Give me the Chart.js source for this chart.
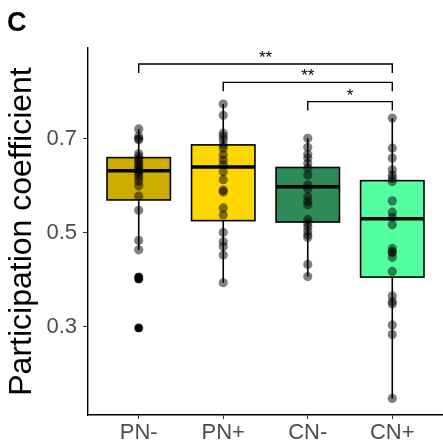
<!DOCTYPE html>
<html>
<head>
<meta charset="utf-8">
<script src="https://cdn.jsdelivr.net/npm/chart.js@4"></script>
<style>
  html, body { margin: 0; padding: 0; background: #fff; }
  #wrap { width: 443px; height: 445px; }
</style>
</head>
<body>
<div id="wrap"><canvas id="pcChart"></canvas></div>
<script>
// groups on the x axis
const groups = ["PN-", "PN+", "CN-", "CN+"];
const boxColors = ["#CDAD00", "#FFD700", "#2E8B57", "#54FF9F"];

// box statistics per group
const lowerWhisker = [0.464, 0.394, 0.407, 0.148];
const q1 = [0.570, 0.526, 0.523, 0.406];
const medians = [0.632, 0.640, 0.598, 0.530];
const q3 = [0.660, 0.687, 0.639, 0.611];
const upperWhisker = [0.721, 0.774, 0.701, 0.744];

// individual subjects
const pnMinus = [0.721, 0.705, 0.700, 0.698, 0.668, 0.662, 0.656, 0.650, 0.645, 0.640, 0.635, 0.630,
                 0.625, 0.618, 0.610, 0.600, 0.578, 0.548, 0.484, 0.464, 0.406, 0.402, 0.298];
const pnPlus = [0.774, 0.750, 0.712, 0.705, 0.698, 0.687, 0.680, 0.666, 0.655, 0.645, 0.630,
                0.613, 0.591, 0.587, 0.553, 0.538, 0.501, 0.481, 0.471, 0.453, 0.394];
const cnMinus = [0.701, 0.682, 0.667, 0.659, 0.648, 0.638, 0.623, 0.602, 0.594, 0.577, 0.567,
                 0.560, 0.528, 0.520, 0.513, 0.504, 0.496, 0.490, 0.433, 0.407];
const cnPlus = [0.744, 0.680, 0.659, 0.634, 0.623, 0.616, 0.609, 0.568, 0.544, 0.533, 0.517,
                0.467, 0.460, 0.458, 0.448, 0.418, 0.366, 0.354, 0.349, 0.304, 0.284, 0.148];
const outliers = [[0.406, 0.402, 0.298], [], [], []];

// significance brackets
const bracketFrom = [1, 2, 3];
const bracketTo = [4, 4, 4];
const bracketY = [0.859, 0.820, 0.779];
const bracketDrop = 0.019;
const bracketLabels = ["**", "**", "*"];

const yTicks = [0.3, 0.5, 0.7];

const FONT = "'Liberation Sans', Arial, Helvetica, sans-serif";

const subjects = [pnMinus, pnPlus, cnMinus, cnPlus];
const pointData = [];
subjects.forEach((vals, i) => vals.forEach(v => pointData.push({ x: i + 1, y: v })));
const outlierData = [];
outliers.forEach((vals, i) => vals.forEach(v => outlierData.push({ x: i + 1, y: v })));

// draws whiskers, boxes and medians under the points
const boxPlugin = {
  id: 'boxes',
  beforeDatasetsDraw(chart) {
    const ctx = chart.ctx;
    const xs = chart.scales.x, ys = chart.scales.y;
    const halfW = 0.375;
    ctx.save();
    groups.forEach((g, i) => {
      const cx = xs.getPixelForValue(i + 1);
      const left = xs.getPixelForValue(i + 1 - halfW);
      const right = xs.getPixelForValue(i + 1 + halfW);
      const yq1 = ys.getPixelForValue(q1[i]);
      const yq3 = ys.getPixelForValue(q3[i]);
      const ymed = ys.getPixelForValue(medians[i]);
      // whiskers
      ctx.strokeStyle = '#000';
      ctx.lineWidth = 1.6;
      ctx.beginPath();
      ctx.moveTo(cx, ys.getPixelForValue(upperWhisker[i]));
      ctx.lineTo(cx, yq3);
      ctx.moveTo(cx, yq1);
      ctx.lineTo(cx, ys.getPixelForValue(lowerWhisker[i]));
      ctx.stroke();
      // box
      ctx.fillStyle = boxColors[i];
      ctx.fillRect(left, yq3, right - left, yq1 - yq3);
      ctx.lineWidth = 1.6;
      ctx.strokeRect(left, yq3, right - left, yq1 - yq3);
      // median
      ctx.lineWidth = 3.4;
      ctx.beginPath();
      ctx.moveTo(left, ymed);
      ctx.lineTo(right, ymed);
      ctx.stroke();
    });
    ctx.restore();
  },
  afterDraw(chart) {
    const ctx = chart.ctx;
    const xs = chart.scales.x, ys = chart.scales.y;
    ctx.save();
    // brackets with stars
    ctx.strokeStyle = '#000';
    ctx.lineWidth = 1.4;
    ctx.fillStyle = '#000';
    ctx.font = '17px ' + FONT;
    ctx.textAlign = 'center';
    ctx.textBaseline = 'alphabetic';
    bracketLabels.forEach((lab, i) => {
      const x1 = xs.getPixelForValue(bracketFrom[i]);
      const x2 = xs.getPixelForValue(bracketTo[i]);
      const yTop = ys.getPixelForValue(bracketY[i]);
      const yBot = ys.getPixelForValue(bracketY[i] - bracketDrop);
      ctx.beginPath();
      ctx.moveTo(x1, yBot);
      ctx.lineTo(x1, yTop);
      ctx.lineTo(x2, yTop);
      ctx.lineTo(x2, yBot);
      ctx.stroke();
      ctx.fillText(lab, (x1 + x2) / 2, yTop - 1);
    });
    // panel letter
    ctx.font = 'bold 27px ' + FONT;
    ctx.textAlign = 'left';
    ctx.textBaseline = 'top';
    ctx.fillText('C', 7, 10);
    ctx.restore();
  }
};

new Chart(document.getElementById('pcChart'), {
  type: 'scatter',
  data: {
    datasets: [
      {
        label: 'subjects',
        data: pointData,
        backgroundColor: 'rgba(0,0,0,0.5)',
        borderWidth: 0,
        pointRadius: 4.6
      },
      {
        label: 'outliers',
        data: outlierData,
        backgroundColor: '#000',
        borderWidth: 0,
        pointRadius: 4
      }
    ]
  },
  options: {
    responsive: true,
    maintainAspectRatio: false,
    animation: false,
    layout: { autoPadding: false, padding: { top: 48, right: 0, left: 0, bottom: 0 } },
    plugins: { legend: { display: false }, tooltip: { enabled: false } },
    scales: {
      x: {
        type: 'linear',
        min: 0.4,
        max: 4.6,
        afterBuildTicks(scale) { scale.ticks = groups.map((g, i) => ({ value: i + 1 })); },
        afterFit(scale) { scale.height = 30; },
        grid: { drawOnChartArea: false, drawTicks: true, tickLength: 4, color: '#333' },
        border: { display: true, color: '#000', width: 1.4 },
        ticks: {
          callback: (v) => groups[v - 1],
          color: '#4D4D4D',
          font: { family: FONT, size: 22 },
          padding: 1,
          maxRotation: 0
        }
      },
      y: {
        min: 0.1128,
        max: 0.893,
        afterBuildTicks(scale) { scale.ticks = yTicks.map(v => ({ value: v })); },
        afterFit(scale) { scale.width = 88; },
        grid: { drawOnChartArea: false, drawTicks: true, tickLength: 5, color: '#333' },
        border: { display: true, color: '#000', width: 1.4 },
        ticks: {
          callback: (v) => v.toFixed(1),
          color: '#4D4D4D',
          font: { family: FONT, size: 22 },
          padding: 6
        },
        title: {
          display: true,
          text: 'Participation coefficient',
          color: '#000',
          font: { family: FONT, size: 32 },
          padding: { top: 3, bottom: 0 }
        }
      }
    }
  },
  plugins: [boxPlugin]
});
</script>
</body>
</html>
